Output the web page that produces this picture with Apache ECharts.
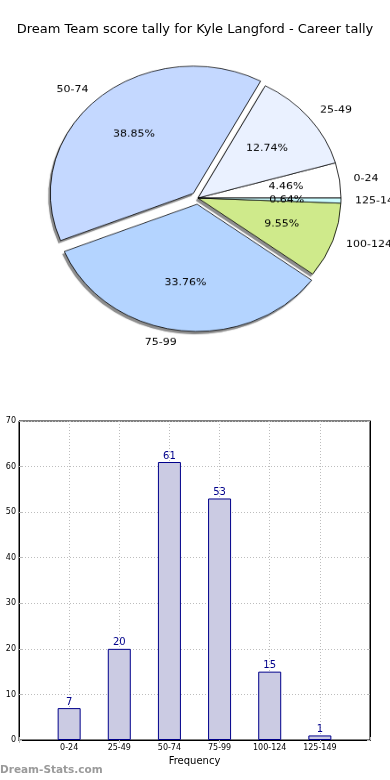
<!DOCTYPE html>
<html><head><meta charset="utf-8">
<script src="https://cdn.jsdelivr.net/npm/echarts@6/dist/echarts.min.js"></script>
<style>
html,body{margin:0;padding:0;background:#fff;}
#main{position:absolute;left:0;top:0;width:390px;height:780px;}
#pie{position:absolute;left:0;top:0;width:390px;height:400px;transform:scaleY(0.89);transform-origin:198px 198px;}
</style></head><body>
<div id="main"></div><div id="pie"></div>
<script>
const titleText = 'Dream Team score tally for Kyle Langford - Career tally';
const categories = ['0-24', '25-49', '50-74', '75-99', '100-124', '125-149'];
const counts = [7, 20, 61, 53, 15, 1];
const sliceColors = ['#ffffff', '#eaf1ff', '#c4d8ff', '#b4d4ff', '#cfea8b', '#ccfcff'];
const explodedSlices = ['50-74', '75-99'];
const yMin = 0, yMax = 70, yStep = 10;
const xAxisName = 'Frequency';
const watermark = 'Dream-Stats.com';
const FONT = 'DejaVu Sans';

const total = counts.reduce((a, b) => a + b, 0);

function pieItems(colorFn) {
  return categories.map((c, i) => ({
    name: c, value: counts[i], selected: explodedSlices.includes(c),
    itemStyle: { color: colorFn(i) }
  }));
}

const pieBase = {
  type: 'pie', startAngle: 0, clockwise: false,
  selectedMode: 'multiple', selectedOffset: 7, avoidLabelOverlap: false, silent: true,
  emphasis: { disabled: true }, labelLine: { show: false, length: 14, length2: 0 }
};

const pie = echarts.init(document.getElementById('pie'));
pie.setOption({
  animation: false,
  series: [
    Object.assign({}, pieBase, {
      center: [196, 201], radius: 143,
      itemStyle: { borderWidth: 0, shadowColor: 'rgba(0,0,0,0.3)', shadowBlur: 1.5 },
      label: { show: false },
      data: pieItems(() => '#8e8e8e')
    }),
    Object.assign({}, pieBase, {
      center: [198, 198], radius: 143,
      itemStyle: { borderColor: '#000', borderWidth: 0.8 },
      label: { show: true, position: 'outside', formatter: '{b}', color: '#000', fontSize: 11, fontFamily: FONT, distanceToLabelLine: 0, edgeDistance: 0, overflow: 'none' },
      data: pieItems(i => sliceColors[i])
    }),
    Object.assign({}, pieBase, {
      center: [198, 198], radius: 143 * 1.2,
      itemStyle: { borderWidth: 0 },
      label: { show: true, position: 'inside', color: '#000', fontSize: 11, fontFamily: FONT,
        formatter: p => (p.value / total * 100).toFixed(2) + '%' },
      data: pieItems(() => 'rgba(0,0,0,0)')
    })
  ]
});

const axisCats = [''].concat(categories, ['']);
const barValues = ['-'].concat(counts, ['-']);

const gridLine = { show: true, lineStyle: { type: [1, 2], color: '#bdbdbd' } };
const tick = { show: true, inside: true, length: 3, lineStyle: { color: '#bbb' } };

const main = echarts.init(document.getElementById('main'));
main.setOption({
  animation: false,
  title: { text: titleText, left: 'center', top: 23, padding: 0,
    textStyle: { fontSize: 13, fontWeight: 'normal', color: '#000', fontFamily: FONT } },
  grid: { left: 19, right: 20, top: 421, bottom: 40, show: true, borderColor: '#000', borderWidth: 1, containLabel: false, outerBoundsMode: 'none' },
  xAxis: [{
    type: 'category', data: axisCats, boundaryGap: false,
    axisLine: { show: true, lineStyle: { color: '#000', width: 1 } },
    axisTick: tick,
    axisLabel: { fontSize: 8, color: '#000', margin: 4, fontFamily: FONT, interval: 0 },
    splitLine: gridLine,
    name: xAxisName, nameLocation: 'middle', nameGap: 16,
    nameTextStyle: { fontSize: 10, color: '#000', fontFamily: FONT }
  }, {
    type: 'category', data: axisCats, boundaryGap: false, position: 'top',
    axisLine: { show: true, lineStyle: { color: '#000', width: 1 } },
    axisTick: tick, axisLabel: { show: false }, splitLine: { show: false }
  }],
  yAxis: [{
    type: 'value', min: yMin, max: yMax, interval: yStep,
    axisLine: { show: true, lineStyle: { color: '#000', width: 1 } },
    axisTick: tick,
    axisLabel: { fontSize: 8, color: '#000', margin: 3, fontFamily: FONT },
    splitLine: gridLine
  }, {
    type: 'value', min: yMin, max: yMax, interval: yStep, position: 'right',
    axisLine: { show: true, lineStyle: { color: '#000', width: 1 } },
    axisTick: tick, axisLabel: { show: false }, splitLine: { show: false }
  }],
  graphic: [{ type: 'text', left: 0, top: 765, style: { text: watermark, fontSize: 10.5, fontWeight: 'bold', fill: '#9a9a9a', fontFamily: FONT } }],
  series: [{
    type: 'bar', data: barValues, barWidth: 23, xAxisIndex: 0, yAxisIndex: 0,
    itemStyle: { color: '#cbcbe3', borderColor: '#00008b', borderWidth: 1 },
    label: { show: true, position: 'top', distance: 1, color: '#00008b', fontSize: 10, fontFamily: FONT },
    emphasis: { disabled: true }
  }]
});
</script></body></html>
